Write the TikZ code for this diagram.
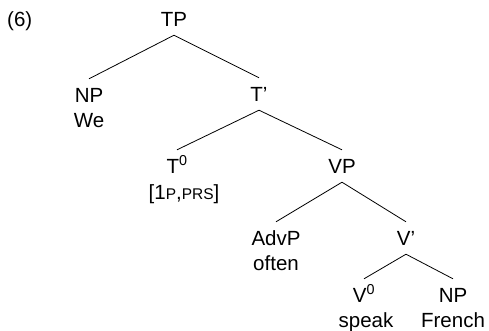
\documentclass[tikz,border=0pt]{standalone}
\usepackage{fontspec}
\setmainfont{Liberation Sans}
\begin{document}
\begin{tikzpicture}[x=1pt,y=-1pt,
  cat/.style={anchor=base,inner xsep=0pt,inner ysep=9pt,text height=14pt,text depth=0pt,font=\fontsize{20.5}{21}\selectfont},
  word/.style={anchor=base,inner sep=0pt,font=\fontsize{20.5}{21}\selectfont},
  branch/.style={draw=black,line width=0.8pt}]
\useasboundingbox (0,0) rectangle (489,330);
\node[word,anchor=base west] (ex) at (7,26) {(6)};
\node[cat] (tp) at (174,26) {TP};
\node[cat] (np1) at (89,102) {NP};
\node[word] (we) at (89,127) {We};
\node[cat] (tbar) at (259,101) {T’};
\node[cat] (t0) at (177,173) {T\textsuperscript{0}};
\node[word] (feat) at (184,199) {[1{\fontsize{15.5}{16}\selectfont P},{\fontsize{15.5}{16}\selectfont PRS}]};
\node[cat] (vp) at (342,173) {VP};
\node[cat] (advp) at (276,245) {AdvP};
\node[word] (often) at (276,270) {often};
\node[cat] (vbar) at (406,245) {V’};
\node[cat] (v0) at (364,302) {V\textsuperscript{0}};
\node[word] (speak) at (366,327) {speak};
\node[cat] (np2) at (453,302) {NP};
\node[word] (french) at (453,327) {French};
\draw[branch] (tp.south) -- (np1.north);
\draw[branch] (tp.south) -- (tbar.north);
\draw[branch] (tbar.south) -- (t0.north);
\draw[branch] (tbar.south) -- (vp.north);
\draw[branch] (vp.south) -- (advp.north);
\draw[branch] (vp.south) -- (vbar.north);
\draw[branch] (vbar.south) -- (v0.north);
\draw[branch] (vbar.south) -- (np2.north);
\end{tikzpicture}
\end{document}
